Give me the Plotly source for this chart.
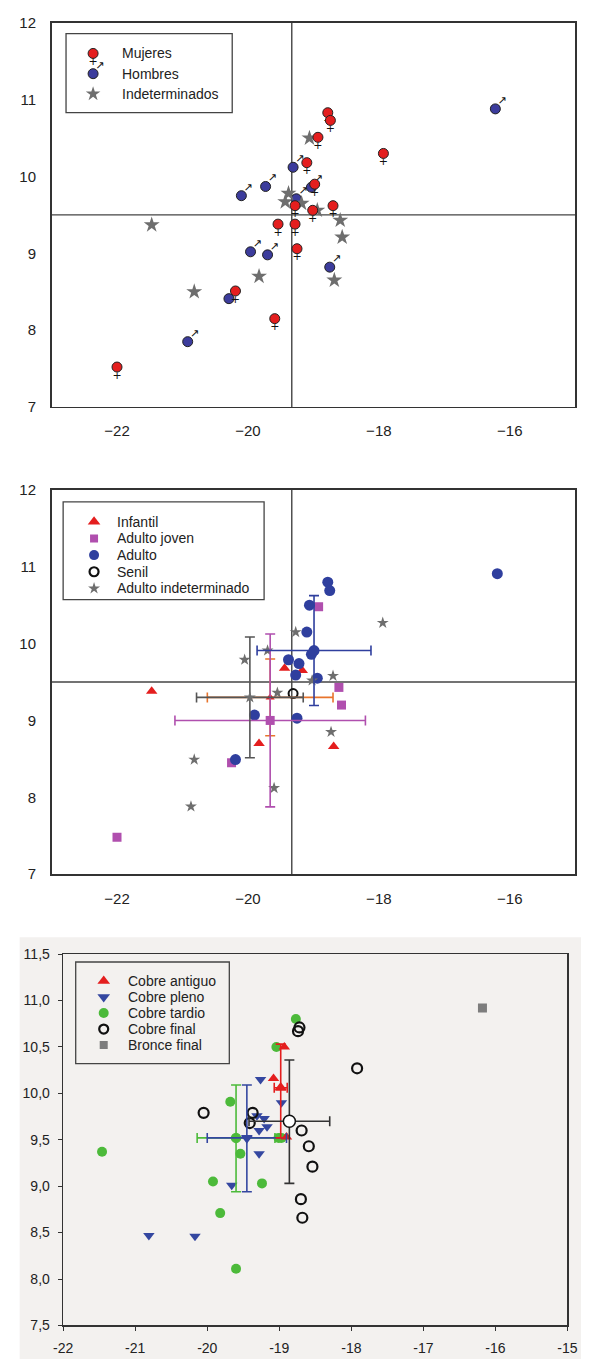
import plotly.graph_objects as go

# ---------------- Panel 1: sexo ----------------
MUJ_X = [-22.0, -20.19, -19.59, -19.54, -19.28, -19.25, -19.28, -19.01, -18.70, -19.10, -18.98, -18.93, -18.78, -18.74, -17.93]
MUJ_Y = [7.52, 8.51, 8.15, 9.38, 9.38, 9.06, 9.62, 9.56, 9.62, 10.18, 9.90, 10.51, 10.83, 10.73, 10.30]
HOM_X = [-20.92, -20.29, -19.96, -19.70, -18.75, -20.10, -19.73, -19.31, -19.26, -19.03, -16.22]
HOM_Y = [7.85, 8.41, 9.02, 8.98, 8.82, 9.75, 9.87, 10.12, 9.71, 9.86, 10.88]
IND_X = [-21.47, -20.82, -19.83, -18.68, -18.59, -18.56, -19.06, -19.38, -19.43, -19.18, -18.94]
IND_Y = [9.37, 8.50, 8.70, 8.65, 9.43, 9.21, 10.50, 9.78, 9.67, 9.65, 9.56]

# ---------------- Panel 2: edad ----------------
INF_X = [-21.47, -19.83, -18.69, -19.44, -19.17]
INF_Y = [9.38, 8.70, 8.66, 9.68, 9.65]
AJ_X = [-22.0, -20.25, -18.92, -18.61, -18.57]
AJ_Y = [7.48, 8.45, 10.48, 9.43, 9.20]
AD_X = [-20.19, -19.90, -19.25, -19.38, -19.22, -19.27, -18.94, -19.10, -19.06, -18.78, -18.75, -19.03, -16.19]
AD_Y = [8.49, 9.07, 9.03, 9.79, 9.74, 9.59, 9.55, 10.15, 10.50, 10.80, 10.69, 9.86, 10.91]
SEN_X = [-19.31]
SEN_Y = [9.35]
AI_X = [-17.94, -19.27, -19.70, -20.05, -18.70, -19.02, -19.55, -18.73, -20.82, -19.60, -20.87]
AI_Y = [10.27, 10.15, 9.91, 9.79, 9.58, 9.52, 9.36, 8.85, 8.49, 8.12, 7.88]

# group means and SD (panel 2): Infantil, Adulto joven, Adulto, Adulto indeterminado
M2_X = [-19.66, -19.66, -18.99, -19.97]
M2_Y = [9.30, 9.00, 9.91, 9.30]
M2_SDX = [0.96, 1.455, 0.87, 0.815]
M2_SDY = [0.50, 1.125, 0.715, 0.785]

REF_X = -19.33
REF_Y = 9.5

# ---------------- Panel 3: periodo ----------------
CA_X = [-18.93, -19.08, -18.90]
CA_Y = [10.50, 10.16, 9.53]
CP_X = [-20.81, -20.17, -19.66, -19.28, -19.26, -18.97, -19.31, -19.21, -19.17, -19.28]
CP_Y = [8.47, 8.46, 9.01, 9.35, 10.15, 9.90, 9.76, 9.73, 9.64, 9.60]
CT_X = [-21.46, -19.60, -19.82, -19.92, -19.24, -19.54, -19.68, -19.04, -18.77, -19.01, -18.97]
CT_Y = [9.37, 8.11, 8.71, 9.05, 9.03, 9.35, 9.91, 10.50, 10.80, 9.52, 9.52]
CF_X = [-20.05, -19.41, -19.37, -18.74, -18.72, -18.69, -18.59, -18.54, -18.70, -18.68, -17.92]
CF_Y = [9.79, 9.68, 9.79, 10.67, 10.71, 9.60, 9.43, 9.21, 8.86, 8.66, 10.27]
BF_X = [-16.18]
BF_Y = [10.92]

# group means and SD (panel 3): antiguo, pleno, tardio, final
M3_X = [-18.98, -19.45, -19.60, -18.86]
M3_Y = [10.06, 9.52, 9.52, 9.70]
M3_SDX = [0.09, 0.55, 0.54, 0.56]
M3_SDY_PLUS = [0.47, 0.57, 0.57, 0.66]
M3_SDY_MINUS = [0.54, 0.58, 0.58, 0.67]

TICKS_12_X = [-22, -20, -18, -16]
TICKS_12_Y = [7, 8, 9, 10, 11, 12]
TICKS_3_X = [-22, -21, -20, -19, -18, -17, -16, -15]
TICKS_3_XT = ["-22", "-21", "-20", "-19", "-18", "-17", "-16", "-15"]
TICKS_3_Y = [7.5, 8.0, 8.5, 9.0, 9.5, 10.0, 10.5, 11.0, 11.5]
TICKS_3_YT = ["7,5", "8,0", "8,5", "9,0", "9,5", "10,0", "10,5", "11,0", "11,5"]

LEG1_LABELS = ["Mujeres", "Hombres", "Indeterminados"]
LEG2_LABELS = ["Infantil", "Adulto joven", "Adulto", "Senil", "Adulto indeterminado"]
LEG3_LABELS = ["Cobre antiguo", "Cobre pleno", "Cobre tardio", "Cobre final", "Bronce final"]

W, H = 591, 1367
def px(v):
    return v / W
def py(v):
    return 1 - v / H

FONT = "Liberation Sans, Arial, sans-serif"
TXT = "#222222"
RED = "#e41e1e"
BLUE1 = "#3c3c9c"
GREY = "#6e6e6e"
MAG = "#b04fae"
BLUE2 = "#2f3f9e"
ORANGE = "#e8742c"
GREEN = "#4cba3a"
BLUE3 = "#3447a0"
TINT = "#f3f1ef"

fig = go.Figure()

def female_cross(xs, ys, xa, ya):
    return go.Scatter(x=xs, y=ys, mode="markers+text", showlegend=False, hoverinfo="skip",
                      marker=dict(size=4, color="rgba(0,0,0,0)"), text=["+"] * len(xs),
                      textposition="bottom center", textfont=dict(size=11, color="#111", family="DejaVu Sans"),
                      xaxis=xa, yaxis=ya)

def male_arrow(xs, ys, xa, ya):
    return go.Scatter(x=xs, y=ys, mode="markers+text", showlegend=False, hoverinfo="skip",
                      marker=dict(size=2, color="rgba(0,0,0,0)"), text=["↗"] * len(xs),
                      textposition="top right", textfont=dict(size=11, color="#111", family="DejaVu Sans"),
                      xaxis=xa, yaxis=ya)

# ----- panel 1 traces -----
fig.add_trace(go.Scatter(x=HOM_X, y=HOM_Y, mode="markers", name="Hombres",
                         marker=dict(symbol="circle", size=10, color=BLUE1, line=dict(color="#222", width=1)),
                         xaxis="x", yaxis="y"))
fig.add_trace(male_arrow(HOM_X, HOM_Y, "x", "y"))
fig.add_trace(go.Scatter(x=IND_X, y=IND_Y, mode="markers", name="Indeterminados",
                         marker=dict(symbol="star", size=12, color=GREY, line=dict(width=0)),
                         xaxis="x", yaxis="y"))
fig.add_trace(female_cross(MUJ_X, MUJ_Y, "x", "y"))
fig.add_trace(go.Scatter(x=MUJ_X, y=MUJ_Y, mode="markers", name="Mujeres",
                         marker=dict(symbol="circle", size=10, color=RED, line=dict(color="#222", width=1)),
                         xaxis="x", yaxis="y"))

# ----- panel 2 traces -----
fig.add_trace(go.Scatter(x=INF_X, y=INF_Y, mode="markers", name="Infantil",
                         marker=dict(symbol="triangle-up", size=10, color=RED), xaxis="x2", yaxis="y2"))
fig.add_trace(go.Scatter(x=AJ_X, y=AJ_Y, mode="markers", name="Adulto joven",
                         marker=dict(symbol="square", size=9, color=MAG), xaxis="x2", yaxis="y2"))
fig.add_trace(go.Scatter(x=AD_X, y=AD_Y, mode="markers", name="Adulto",
                         marker=dict(symbol="circle", size=11, color=BLUE2), xaxis="x2", yaxis="y2"))
fig.add_trace(go.Scatter(x=AI_X, y=AI_Y, mode="markers", name="Adulto indeterminado",
                         marker=dict(symbol="star", size=9, color=GREY), xaxis="x2", yaxis="y2"))
fig.add_trace(go.Scatter(x=SEN_X, y=SEN_Y, mode="markers", name="Senil",
                         marker=dict(symbol="circle-open", size=9, color="#111", line=dict(width=2)),
                         xaxis="x2", yaxis="y2"))

M2_SYM = ["triangle-up", "square", "circle", "star"]
M2_MCOL = [RED, MAG, BLUE2, GREY]
M2_ECOL = [ORANGE, MAG, BLUE2, "#555555"]
M2_SIZE = [8, 9, 11, 9]
for i in range(len(M2_X)):
    fig.add_trace(go.Scatter(
        x=[M2_X[i]], y=[M2_Y[i]], mode="markers", showlegend=False,
        marker=dict(symbol=M2_SYM[i], size=M2_SIZE[i], color=M2_MCOL[i]),
        error_x=dict(type="data", array=[M2_SDX[i]], color=M2_ECOL[i], thickness=1.6, width=5),
        error_y=dict(type="data", array=[M2_SDY[i]], color=M2_ECOL[i], thickness=1.6, width=5),
        xaxis="x2", yaxis="y2"))

# ----- panel 3 traces -----
fig.add_trace(go.Scatter(x=CT_X, y=CT_Y, mode="markers", name="Cobre tardio",
                         marker=dict(symbol="circle", size=10, color=GREEN), xaxis="x3", yaxis="y3"))
fig.add_trace(go.Scatter(x=CP_X, y=CP_Y, mode="markers", name="Cobre pleno",
                         marker=dict(symbol="triangle-down", size=10, color=BLUE3), xaxis="x3", yaxis="y3"))
fig.add_trace(go.Scatter(x=CA_X, y=CA_Y, mode="markers", name="Cobre antiguo",
                         marker=dict(symbol="triangle-up", size=10, color=RED), xaxis="x3", yaxis="y3"))
fig.add_trace(go.Scatter(x=CF_X, y=CF_Y, mode="markers", name="Cobre final",
                         marker=dict(symbol="circle-open", size=10, color="#111", line=dict(width=2.2)),
                         xaxis="x3", yaxis="y3"))
fig.add_trace(go.Scatter(x=BF_X, y=BF_Y, mode="markers", name="Bronce final",
                         marker=dict(symbol="square", size=9, color="#7d7d7d"), xaxis="x3", yaxis="y3"))

M3_SYM = ["triangle-up", "triangle-down", "circle", "circle"]
M3_MCOL = [RED, BLUE3, GREEN, "white"]
M3_LCOL = [RED, BLUE3, GREEN, "#111"]
M3_ECOL = [RED, BLUE3, GREEN, "#333333"]
M3_SIZE = [9, 9, 9, 12]
for i in [2, 1, 0, 3]:
    fig.add_trace(go.Scatter(
        x=[M3_X[i]], y=[M3_Y[i]], mode="markers", showlegend=False,
        marker=dict(symbol=M3_SYM[i], size=M3_SIZE[i], color=M3_MCOL[i], line=dict(color=M3_LCOL[i], width=1.5)),
        error_x=dict(type="data", array=[M3_SDX[i]], color=M3_ECOL[i], thickness=1.6, width=5),
        error_y=dict(type="data", symmetric=False, array=[M3_SDY_PLUS[i]], arrayminus=[M3_SDY_MINUS[i]],
                     color=M3_ECOL[i], thickness=1.6, width=5),
        xaxis="x3", yaxis="y3"))

# ----- hand-made legends (one small hidden subplot each) -----
LEGENDS = [
    dict(labels=LEG1_LABELS, sym=["circle", "circle", "star"], col=[RED, BLUE1, GREY], size=[10, 10, 11],
         lcol=["#222", "#222", GREY], lw=[1, 1, 0], mx=86, r0=45, gap=20.5, tx=114, ax="4"),
    dict(labels=LEG2_LABELS, sym=["triangle-up", "square", "circle", "circle-open", "star"],
         col=[RED, MAG, BLUE2, "#111", GREY], size=[11, 8, 10, 9, 9],
         lcol=[RED, MAG, BLUE2, "#111", GREY], lw=[0, 0, 0, 2.2, 0], mx=87, r0=519.3, gap=16.85, tx=109, ax="5"),
    dict(labels=LEG3_LABELS, sym=["triangle-up", "triangle-down", "circle", "circle-open", "square"],
         col=[RED, BLUE3, GREEN, "#111", "#7d7d7d"], size=[11, 11, 10, 9, 8],
         lcol=[RED, BLUE3, GREEN, "#111", "#7d7d7d"], lw=[0, 0, 0, 2.2, 0], mx=97, r0=984.3, gap=16.2, tx=120, ax="6"),
]

annotations = []
axes_extra = {}
for L in LEGENDS:
    n = len(L["labels"])
    rows = list(range(n))
    xa, ya = "x" + L["ax"], "y" + L["ax"]
    axes_extra["xaxis" + L["ax"]] = dict(domain=[px(L["mx"] - 20), px(L["mx"] + 20)], range=[-1, 1],
                                          visible=False, fixedrange=True, anchor=ya)
    top = L["r0"] - L["gap"] / 2
    bot = L["r0"] + (n - 0.5) * L["gap"]
    axes_extra["yaxis" + L["ax"]] = dict(domain=[py(bot), py(top)], range=[n - 0.5, -0.5],
                                          visible=False, fixedrange=True, anchor=xa)
    fig.add_trace(go.Scatter(x=[0] * n, y=rows, mode="markers", showlegend=False, hoverinfo="skip",
                             marker=dict(symbol=L["sym"], color=L["col"], size=L["size"], opacity=1,
                                         line=dict(color=L["lcol"], width=L["lw"])),
                             xaxis=xa, yaxis=ya))
    for i, lab in enumerate(L["labels"]):
        annotations.append(dict(xref="paper", yref=ya, x=px(L["tx"]), y=i, text=lab, showarrow=False,
                                xanchor="left", yanchor="middle",
                                font=dict(family=FONT, size=14, color=TXT)))

# sex glyphs on legend 1 symbols
fig.add_trace(female_cross([0], [0], "x4", "y4"))
fig.add_trace(male_arrow([0], [1], "x4", "y4"))

# ----- axes -----
axis_common = dict(showline=True, mirror=True, linecolor="#333", linewidth=1.5, showgrid=False, zeroline=False)
tf15 = dict(family=FONT, size=15, color=TXT)
tf14 = dict(family=FONT, size=14, color=TXT)

fig.update_layout(
    width=W, height=H, margin=dict(l=0, r=0, t=0, b=0),
    paper_bgcolor="white", plot_bgcolor="rgba(0,0,0,0)", showlegend=False,
    font=dict(family=FONT, color=TXT), hovermode=False,
    xaxis=dict(domain=[px(43), px(585)], range=[-23, -15], tickvals=TICKS_12_X, anchor="y", ticks="",
               ticklabelstandoff=10, tickfont=tf15, **axis_common),
    yaxis=dict(domain=[py(403), py(14)], range=[7, 12], tickvals=TICKS_12_Y, anchor="x", ticks="",
               ticklabelstandoff=11, tickfont=tf15, **axis_common),
    xaxis2=dict(domain=[px(43), px(585)], range=[-23, -15], tickvals=TICKS_12_X, anchor="y2", ticks="",
                ticklabelstandoff=10, tickfont=tf15, **axis_common),
    yaxis2=dict(domain=[py(876), py(487)], range=[7, 12], tickvals=TICKS_12_Y, anchor="x2", ticks="",
                ticklabelstandoff=11, tickfont=tf15, **axis_common),
    xaxis3=dict(domain=[px(55), px(577)], range=[-22, -15], tickvals=TICKS_3_X, ticktext=TICKS_3_XT, anchor="y3",
                ticks="outside", ticklen=4, tickcolor="#333", ticklabelstandoff=5, tickfont=tf14, **axis_common),
    yaxis3=dict(domain=[py(1333), py(957)], range=[7.5, 11.5], tickvals=TICKS_3_Y, ticktext=TICKS_3_YT, anchor="x3",
                ticks="outside", ticklen=4, tickcolor="#333", ticklabelstandoff=5, tickfont=tf14, **axis_common),
    annotations=annotations,
    **axes_extra,
)

shapes = [
    # tinted background behind panel 3
    dict(type="rect", xref="paper", yref="paper", x0=px(10), x1=1, y0=0, y1=py(940),
         fillcolor=TINT, line=dict(width=0), layer="below"),
    # legend frames
    dict(type="rect", xref="paper", yref="paper", x0=px(58), x1=px(230), y0=py(105), y1=py(25),
         fillcolor="white", line=dict(color="#444", width=1.3), layer="below"),
    dict(type="rect", xref="paper", yref="paper", x0=px(55), x1=px(263), y0=py(598), y1=py(499),
         fillcolor="white", line=dict(color="#444", width=1.3), layer="below"),
    dict(type="rect", xref="paper", yref="paper", x0=px(68), x1=px(227), y0=py(1068), y1=py(965),
         fillcolor=TINT, line=dict(color="#444", width=1.3), layer="below"),
]
for xr, yr in [("x", "y"), ("x2", "y2")]:
    shapes.append(dict(type="line", xref=xr, yref=yr + " domain", x0=REF_X, x1=REF_X, y0=0, y1=1,
                       line=dict(color="#444", width=1.4), layer="below"))
    shapes.append(dict(type="line", xref=xr + " domain", yref=yr, x0=0, x1=1, y0=REF_Y, y1=REF_Y,
                       line=dict(color="#444", width=1.4), layer="below"))
fig.update_layout(shapes=shapes)

fig.write_html("out.html", config={"displayModeBar": False, "staticPlot": True},
               post_script="document.body.style.margin='0';")
